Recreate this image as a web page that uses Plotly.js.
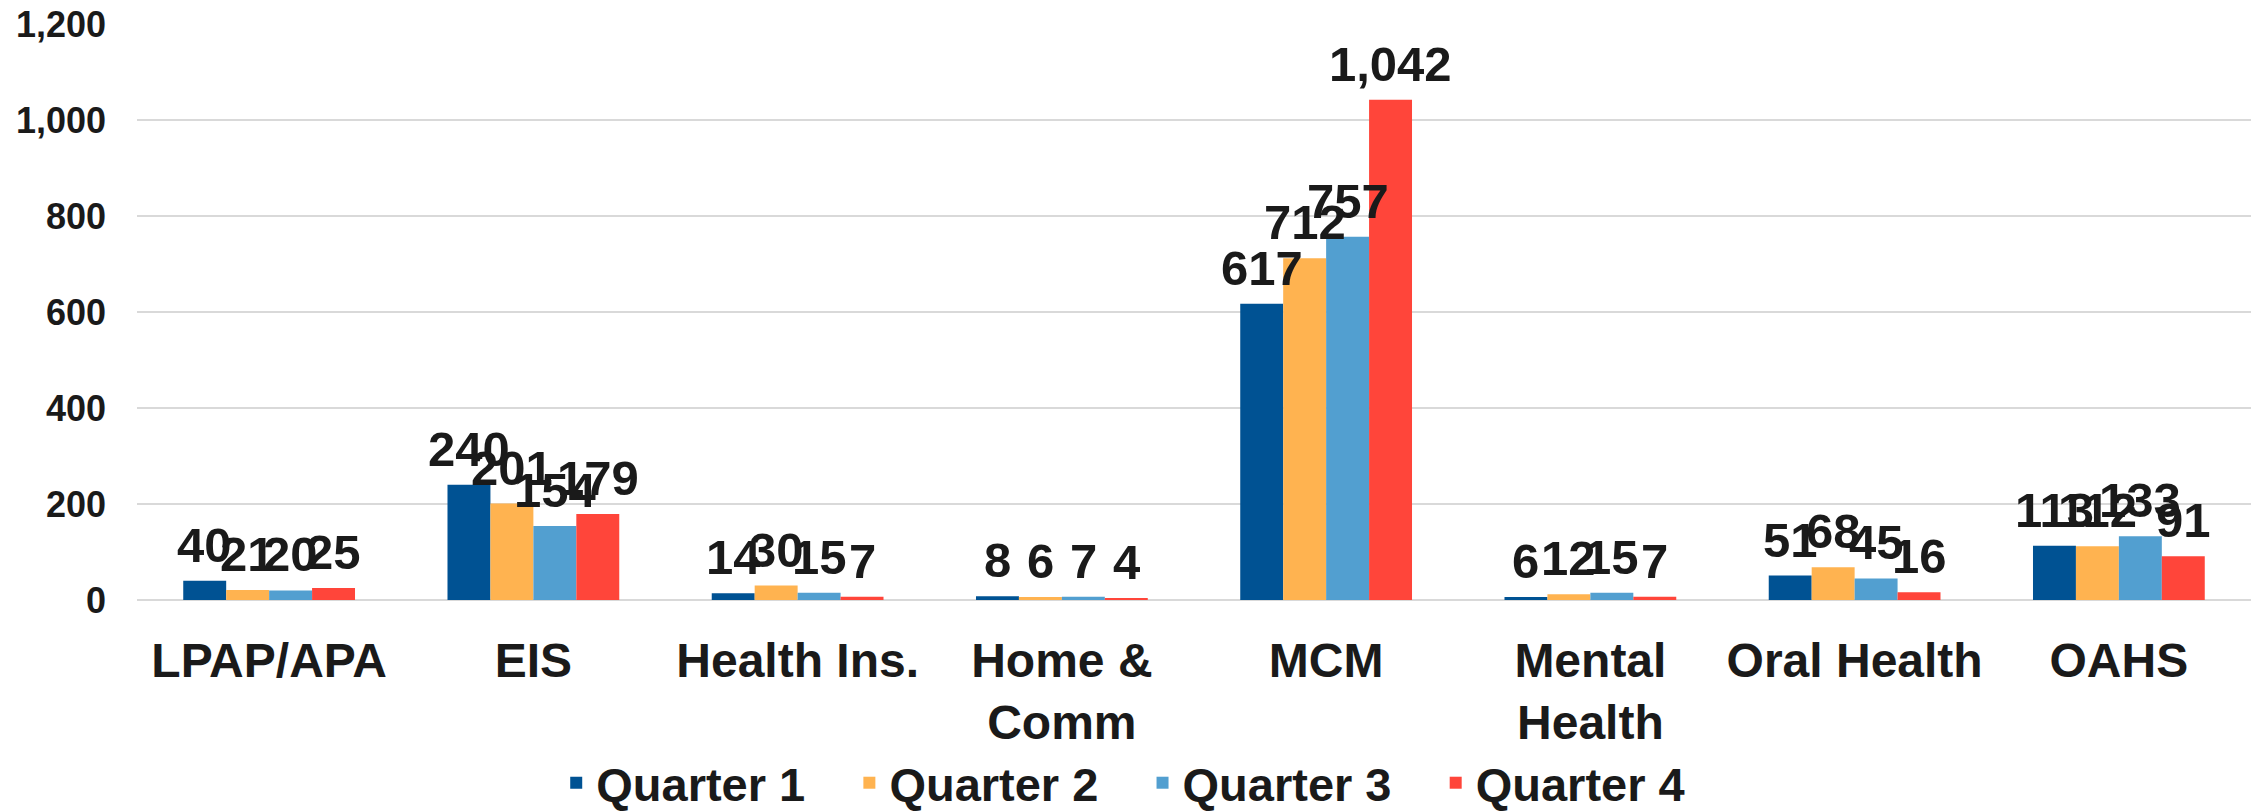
<!DOCTYPE html>
<html>
<head>
<meta charset="utf-8">
<script src="https://cdn.plot.ly/plotly-3.0.1.min.js"></script>
<style>
  html, body { margin: 0; padding: 0; background: #fff; }
  #chart { width: 2260px; height: 811px; }
</style>
</head>
<body>
<div id="chart"></div>
<script>
var categories = ['LPAP/APA', 'EIS', 'Health Ins.', 'Home &<br>Comm', 'MCM', 'Mental<br>Health', 'Oral Health', 'OAHS'];

var quarter1 = [40, 240, 14, 8, 617, 6, 51, 113];
var quarter2 = [21, 201, 30, 6, 712, 12, 68, 112];
var quarter3 = [20, 154, 15, 7, 757, 15, 45, 133];
var quarter4 = [25, 179, 7, 4, 1042, 7, 16, 91];

var seriesNames = ['Quarter 1', 'Quarter 2', 'Quarter 3', 'Quarter 4'];
var seriesValues = [quarter1, quarter2, quarter3, quarter4];
var colors = ['#005293', '#FFB350', '#529FD0', '#FF453A'];

var fontFamily = '"Liberation Sans", Arial, sans-serif';
var textColor = '#1a1a1a';
var bargap = 0.35;

var data = [];
var labels = [];
var barWidth = (1 - bargap) / seriesValues.length;

for (var s = 0; s < seriesValues.length; s++) {
  data.push({
    x: categories,
    y: seriesValues[s],
    // trailing spaces widen the legend entries like the original
    name: seriesNames[s] + (s < seriesValues.length - 1 ? '\u00a0\u00a0\u00a0' : ''),
    type: 'bar',
    marker: {color: colors[s]},
    hoverinfo: 'x+y+name'
  });
  // value labels above each bar, centred on the bar
  for (var c = 0; c < categories.length; c++) {
    labels.push({
      x: c - (1 - bargap) / 2 + (s + 0.5) * barWidth,
      y: seriesValues[s][c],
      xref: 'x',
      yref: 'y',
      text: seriesValues[s][c].toLocaleString('en-US'),
      showarrow: false,
      xanchor: 'center',
      yanchor: 'bottom',
      yshift: 7,
      font: {family: fontFamily, size: 49, weight: 'bold', color: textColor}
    });
  }
}

var layout = {
  width: 2260,
  height: 811,
  paper_bgcolor: '#ffffff',
  plot_bgcolor: '#ffffff',
  margin: {l: 137, r: 9, t: 24, b: 211, autoexpand: false},
  barmode: 'group',
  bargap: bargap,
  bargroupgap: 0,
  font: {family: fontFamily, color: textColor},
  xaxis: {
    type: 'category',
    showgrid: false,
    showline: false,
    ticks: '',
    tickangle: 0,
    automargin: false,
    ticklabelstandoff: 28,
    tickfont: {family: fontFamily, size: 48, weight: 'bold', color: textColor}
  },
  yaxis: {
    range: [0, 1200],
    dtick: 200,
    tickformat: ',',
    showline: false,
    ticks: '',
    automargin: false,
    gridcolor: '#d9d9d9',
    gridwidth: 2,
    zeroline: true,
    zerolinecolor: '#d9d9d9',
    zerolinewidth: 2,
    ticklabelstandoff: 30,
    tickfont: {family: fontFamily, size: 36, weight: 'bold', color: textColor}
  },
  legend: {
    orientation: 'h',
    xref: 'container',
    x: 0.497,
    xanchor: 'center',
    yref: 'paper',
    y: -0.318,
    yanchor: 'middle',
    itemclick: false,
    font: {family: fontFamily, size: 47, weight: 'bold', color: textColor}
  },
  annotations: labels,
  showlegend: true
};

Plotly.newPlot('chart', data, layout, {staticPlot: true});
</script>
</body>
</html>
